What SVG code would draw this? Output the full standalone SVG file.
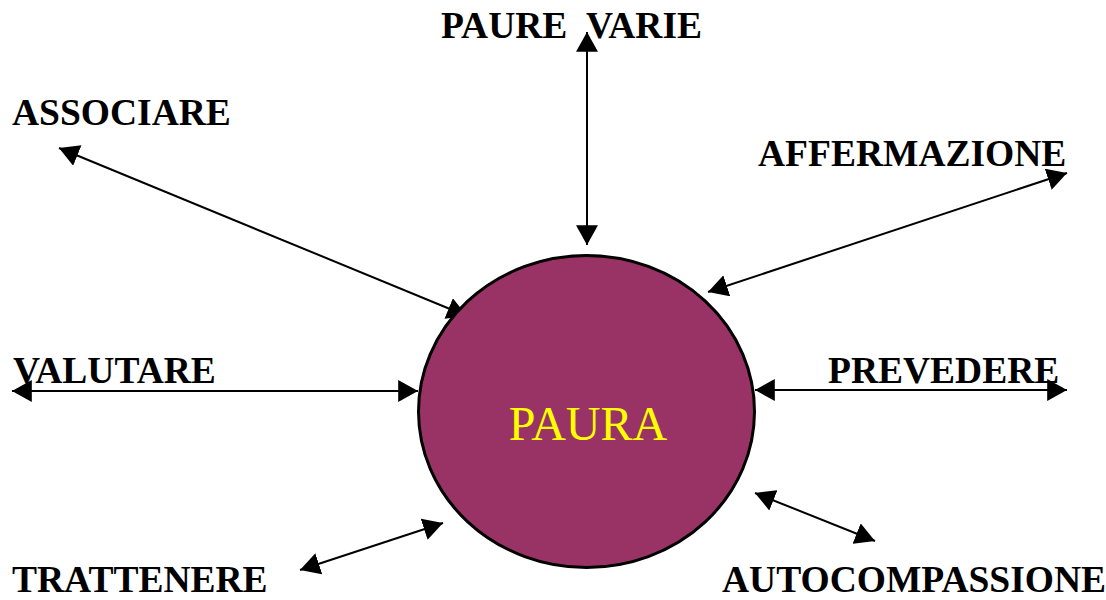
<svg xmlns="http://www.w3.org/2000/svg" width="1106" height="600" viewBox="0 0 1106 600">
<style>
.lbl{font-family:"Liberation Serif","Times New Roman",serif;font-weight:bold;font-size:37.5px;fill:#000}
.conn line{stroke:#000;stroke-width:2}
</style>
<defs>
<marker id="ah" markerUnits="userSpaceOnUse" markerWidth="20" markerHeight="22" viewBox="0 0 18 20" refX="18" refY="10" orient="auto-start-reverse">
<path d="M0,0 L18,10 L0,20 Z" fill="#000"/>
</marker>
</defs>
<rect width="1106" height="600" fill="#fff"/>
<g id="connectors" class="conn">
<line x1="587" y1="32" x2="587" y2="245" marker-start="url(#ah)" marker-end="url(#ah)"/>
<line x1="59" y1="148" x2="467" y2="316" marker-start="url(#ah)" marker-end="url(#ah)"/>
<line x1="1067" y1="173" x2="708" y2="292" marker-start="url(#ah)" marker-end="url(#ah)"/>
<line x1="12" y1="391" x2="418" y2="391" marker-start="url(#ah)" marker-end="url(#ah)"/>
<line x1="755" y1="390" x2="1067" y2="390" marker-start="url(#ah)" marker-end="url(#ah)"/>
<line x1="300" y1="570" x2="443" y2="523" marker-start="url(#ah)" marker-end="url(#ah)"/>
<line x1="755" y1="493" x2="875" y2="541" marker-start="url(#ah)" marker-end="url(#ah)"/>
</g>
<g id="paura">
<ellipse cx="586.5" cy="411.5" rx="168" ry="156" fill="#993366" stroke="#000" stroke-width="3"/>
<text x="588" y="440" text-anchor="middle" font-family="'Liberation Serif','Times New Roman',serif" font-size="48" fill="#ffff00">PAURA</text>
</g>
<g id="paure-varie"><text class="lbl" x="441" y="38">PAURE <tspan x="586">VARIE</tspan></text></g>
<g id="associare"><text class="lbl" x="12" y="125">ASSOCIARE</text></g>
<g id="affermazione"><text class="lbl" x="758" y="166">AFFERMAZIONE</text></g>
<g id="valutare"><text class="lbl" x="13" y="383">VALUTARE</text></g>
<g id="prevedere"><text class="lbl" x="828" y="383">PREVEDERE</text></g>
<g id="trattenere"><text class="lbl" x="12" y="592">TRATTENERE</text></g>
<g id="autocompassione"><text class="lbl" x="722" y="592">AUTOCOMPASSIONE</text></g>
</svg>
